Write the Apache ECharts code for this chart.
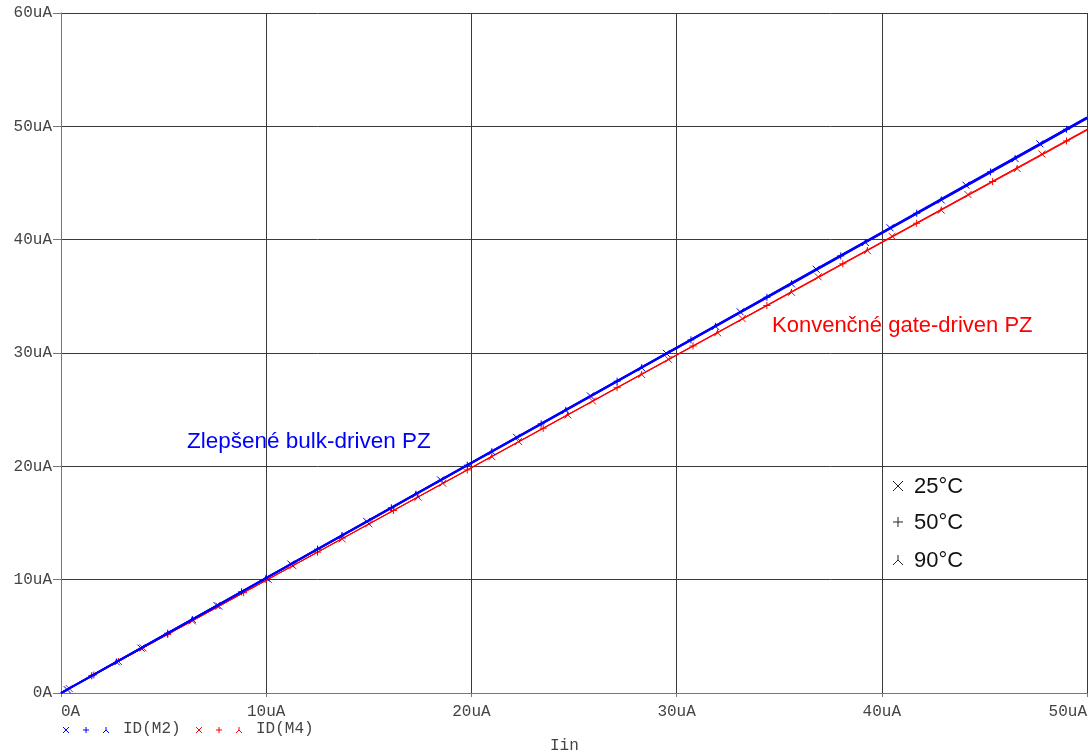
<!DOCTYPE html>
<html>
<head>
<meta charset="utf-8">
<script src="https://cdn.jsdelivr.net/npm/echarts@6/dist/echarts.min.js"></script>
<style>
html,body{margin:0;padding:0;background:#fff;}
#c{width:1091px;height:756px;}
</style>
</head>
<body>
<div id="c"></div>
<script>
// X-axis ticks (uA) and Y-axis ticks (uA)
var xTicks = [0, 10, 20, 30, 40, 50];
var yTicks = [0, 10, 20, 30, 40, 50, 60];

// ID(M2) - improved bulk-driven (blue), marker positions per temperature
var m2_25_x = [0, 0.3, 3.9, 7.6, 11.2, 14.9, 18.5, 22.2, 25.8, 29.5, 33.1, 36.8, 40.4, 44.1, 47.7, 50];
var m2_25_y = [0, 0.30, 3.96, 7.72, 11.38, 15.14, 18.80, 22.56, 26.21, 29.97, 33.63, 37.39, 41.05, 44.81, 48.46, 50.80];
var m2_50_x = [0, 1.5, 5.2, 8.8, 12.5, 16.1, 19.8, 23.4, 27.1, 30.7, 34.4, 38.0, 41.7, 45.3, 49.0, 50];
var m2_50_y = [0, 1.52, 5.28, 8.93, 12.69, 16.34, 20.10, 23.75, 27.51, 31.16, 34.92, 38.57, 42.33, 45.98, 49.74, 50.75];
var m2_90_x = [0, 2.7, 6.4, 10.0, 13.7, 17.3, 21.0, 24.6, 28.3, 31.9, 35.6, 39.2, 42.9, 46.5, 50];
var m2_90_y = [0, 2.74, 6.49, 10.14, 13.89, 17.54, 21.29, 24.94, 28.70, 32.35, 36.10, 39.75, 43.50, 47.15, 50.70];

// ID(M4) - conventional gate-driven (red)
var m4_25_x = [0, 0.4, 4.0, 7.7, 11.3, 15.0, 18.6, 22.3, 25.9, 29.6, 33.2, 36.9, 40.5, 44.2, 47.8, 50];
var m4_25_y = [0, 0.40, 3.98, 7.66, 11.24, 14.93, 18.51, 22.19, 25.77, 29.45, 33.03, 36.72, 40.30, 43.98, 47.56, 49.75];
var m4_50_x = [0, 1.6, 5.2, 8.9, 12.5, 16.2, 19.8, 23.5, 27.1, 30.8, 34.4, 38.1, 41.7, 45.4, 49.0, 50];
var m4_50_y = [0, 1.59, 5.17, 8.85, 12.43, 16.10, 19.68, 23.36, 26.94, 30.62, 34.19, 37.87, 41.45, 45.13, 48.71, 49.70];
var m4_90_x = [0, 2.8, 6.4, 10.1, 13.7, 17.4, 21.0, 24.7, 28.3, 32.0, 35.6, 39.3, 42.9, 46.6, 50];
var m4_90_y = [0, 2.78, 6.36, 10.03, 13.60, 17.28, 20.85, 24.53, 28.10, 31.78, 35.35, 39.03, 42.60, 46.27, 49.65];

var traceNames = ['ID(M2)', 'ID(M4)'];
var tempLabels = ['25°C', '50°C', '90°C'];
var annBlue = 'Zlepšené bulk-driven PZ';
var annRed = 'Konvenčné gate-driven PZ';
var xName = 'Iin';

var SYM_X = 'path://M0,0L10,10M10,0L0,10';
var SYM_P = 'path://M5,0L5,10M0,5L10,5';
var SYM_T = 'path://M5,0L5,5L0,10M5,5L10,10';

function mk(xs, ys) {
  return xs.map(function (x, i) {
    var d = { value: [x, ys[i]] };
    if (i === 0 || i === xs.length - 1) d.symbol = 'none';
    return d;
  });
}
function series(name, xs, ys, color, sym, lw, z) {
  return {
    name: name, type: 'line', data: mk(xs, ys), symbol: sym, symbolSize: 7,
    symbolKeepAspect: true, showAllSymbol: true, animation: false, z: z,
    lineStyle: { color: color, width: lw },
    itemStyle: { color: color, borderColor: color, borderWidth: 1 }
  };
}
function fmt(v) { return v === 0 ? '0A' : v + 'uA'; }

var chart = echarts.init(document.getElementById('c'));
var mono = '"Liberation Mono", "DejaVu Sans Mono", monospace';
var sans = '"Liberation Sans", Arial, sans-serif';

function lineG(x1, y1, x2, y2, c) {
  return { type: 'line', shape: { x1: x1, y1: y1, x2: x2, y2: y2 }, style: { stroke: c, lineWidth: 1 } };
}
function symG(kind, cx, cy, s, c) {
  var h = s / 2;
  if (kind === 'x') return [lineG(cx - h, cy - h, cx + h, cy + h, c), lineG(cx + h, cy - h, cx - h, cy + h, c)];
  if (kind === 'p') return [lineG(cx, cy - h, cx, cy + h, c), lineG(cx - h, cy, cx + h, cy, c)];
  return [lineG(cx, cy - h, cx, cy, c), lineG(cx, cy, cx - h, cy + h, c), lineG(cx, cy, cx + h, cy + h, c)];
}

var graphics = [];
// bottom legend
[['#0000ff', 66, traceNames[0], 123], ['#ff0000', 199, traceNames[1], 256]].forEach(function (l) {
  graphics = graphics.concat(symG('x', l[1], 730, 6, l[0]), symG('p', l[1] + 20, 730, 6, l[0]), symG('t', l[1] + 40, 730, 6, l[0]));
  graphics.push({ type: 'text', left: l[3], top: 721, style: { text: l[2], font: '16px ' + mono, fill: '#444' } });
});
// temperature legend
var ky = [486, 522, 560];
['x', 'p', 't'].forEach(function (k, i) {
  graphics = graphics.concat(symG(k, 898, ky[i], 10, '#222'));
  graphics.push({ type: 'text', left: 914, top: ky[i] - 10, style: { text: tempLabels[i], font: '22px ' + sans, fill: '#111' } });
});
// annotations
graphics.push({ type: 'text', left: 187, top: 430, style: { text: annBlue, font: '22.5px ' + sans, fill: '#0000ff' } });
graphics.push({ type: 'text', left: 772, top: 315, style: { text: annRed, font: '22px ' + sans, fill: '#ff0000' } });
// x name
graphics.push({ type: 'text', left: 550, top: 738, style: { text: xName, font: '16px ' + mono, fill: '#444' } });

chart.setOption({
  backgroundColor: '#ffffff',
  animation: false,
  grid: { left: 61, right: 4, top: 13, bottom: 63, containLabel: false },
  xAxis: {
    type: 'value', min: xTicks[0], max: xTicks[xTicks.length - 1], interval: 10,
    axisLine: { show: true, lineStyle: { color: '#777', width: 1 } },
    axisTick: { show: true, length: 4, lineStyle: { color: '#777' } },
    axisLabel: { formatter: fmt, color: '#444', fontFamily: mono, fontSize: 16, margin: 11,
      alignMaxLabel: 'right', alignMinLabel: 'left' },
    splitLine: { show: true, lineStyle: { color: '#3a3a3a', width: 1 } }
  },
  yAxis: {
    type: 'value', min: yTicks[0], max: yTicks[yTicks.length - 1], interval: 10,
    axisLine: { show: true, lineStyle: { color: '#777', width: 1 } },
    axisTick: { show: true, length: 8, lineStyle: { color: '#777' } },
    axisLabel: { formatter: fmt, color: '#444', fontFamily: mono, fontSize: 16, margin: 9 },
    splitLine: { show: true, lineStyle: { color: '#3a3a3a', width: 1 } }
  },
  series: [
    series('M4 25', m4_25_x, m4_25_y, '#ff0000', SYM_X, 1, 2),
    series('M4 50', m4_50_x, m4_50_y, '#ff0000', SYM_P, 1, 2),
    series('M4 90', m4_90_x, m4_90_y, '#ff0000', SYM_T, 1, 2),
    series('M2 25', m2_25_x, m2_25_y, '#0000ff', SYM_X, 2, 3),
    series('M2 50', m2_50_x, m2_50_y, '#0000ff', SYM_P, 2, 3),
    series('M2 90', m2_90_x, m2_90_y, '#0000ff', SYM_T, 2, 3)
  ],
  graphic: graphics
});
</script>
</body>
</html>
